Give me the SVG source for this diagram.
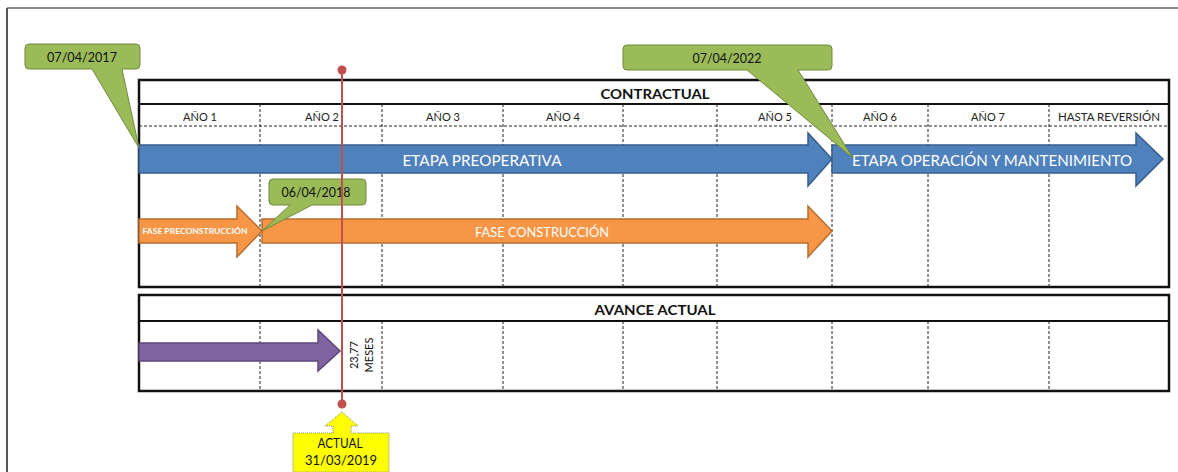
<svg xmlns="http://www.w3.org/2000/svg" width="1178" height="472" viewBox="0 0 1178 472">
<style>
  text { font-family: Lato, "Open Sans", "Liberation Sans", sans-serif; }
  .frame { fill: none; stroke: #111; stroke-width: 2.5; }
  .rowline { stroke: #111; stroke-width: 2; }
  .dash { stroke: #222; stroke-width: 1; stroke-dasharray: 3 2; fill: none; }
  .hdr { font-size: 11px; fill: #222; text-anchor: middle; }
  .title { font-size: 14px; font-weight: bold; fill: #111; text-anchor: middle; }
  .blue { fill: #4F81BD; stroke: #385D8A; stroke-width: 1.5; }
  .orange { fill: #F79646; stroke: #B66D31; stroke-width: 1.5; }
  .purple { fill: #8064A2; stroke: #5C4776; stroke-width: 1.5; }
  .green { fill: #9BBB59; stroke: #71893F; stroke-width: 1; }
  .wlab { fill: #FFFFFF; text-anchor: middle; }
  .date { font-size: 12.5px; fill: #111; text-anchor: middle; }
</style>

<!-- outer frame -->
<g id="outer-frame">
  <line x1="7" y1="8" x2="1178" y2="8" stroke="#666" stroke-width="1.5"/>
  <line x1="7" y1="8" x2="7" y2="472" stroke="#555" stroke-width="2"/>
</g>

<!-- CONTRACTUAL table -->
<g id="contractual-table">
  <rect class="frame" x="139" y="80" width="1030" height="207" fill="#fff"/>
  <line class="rowline" x1="139" y1="104" x2="1169" y2="104"/>
  <line class="dash" x1="139" y1="126" x2="1169" y2="126"/>
  <line class="dash" x1="260" y1="104" x2="260" y2="287"/>
  <line class="dash" x1="382" y1="104" x2="382" y2="287"/>
  <line class="dash" x1="503" y1="104" x2="503" y2="287"/>
  <line class="dash" x1="623" y1="104" x2="623" y2="287"/>
  <line class="dash" x1="717" y1="104" x2="717" y2="287"/>
  <line class="dash" x1="832" y1="104" x2="832" y2="287"/>
  <line class="dash" x1="928" y1="104" x2="928" y2="287"/>
  <line class="dash" x1="1049" y1="104" x2="1049" y2="287"/>
  <text class="title" x="655" y="99" textLength="109" lengthAdjust="spacingAndGlyphs">CONTRACTUAL</text>
  <text class="hdr" x="200" y="121">AÑO 1</text>
  <text class="hdr" x="322" y="121">AÑO 2</text>
  <text class="hdr" x="443" y="121">AÑO 3</text>
  <text class="hdr" x="563" y="121">AÑO 4</text>
  <text class="hdr" x="775" y="121">AÑO 5</text>
  <text class="hdr" x="880" y="121">AÑO 6</text>
  <text class="hdr" x="988" y="121">AÑO 7</text>
  <text class="hdr" x="1109" y="121" textLength="102" lengthAdjust="spacingAndGlyphs">HASTA REVERSIÓN</text>
</g>

<!-- AVANCE ACTUAL table -->
<g id="avance-table">
  <rect class="frame" x="139" y="295" width="1030" height="96" fill="#fff"/>
  <line class="rowline" x1="139" y1="321" x2="1169" y2="321"/>
  <line class="dash" x1="260" y1="321" x2="260" y2="391"/>
  <line class="dash" x1="382" y1="321" x2="382" y2="391"/>
  <line class="dash" x1="503" y1="321" x2="503" y2="391"/>
  <line class="dash" x1="623" y1="321" x2="623" y2="391"/>
  <line class="dash" x1="717" y1="321" x2="717" y2="391"/>
  <line class="dash" x1="832" y1="321" x2="832" y2="391"/>
  <line class="dash" x1="928" y1="321" x2="928" y2="391"/>
  <line class="dash" x1="1049" y1="321" x2="1049" y2="391"/>
  <text class="title" x="655" y="315" textLength="121" lengthAdjust="spacingAndGlyphs">AVANCE ACTUAL</text>
</g>

<!-- arrows -->
<g id="arrow-etapa-preoperativa">
  <path class="blue" d="M139,145 H808 V133 L832,159 L808,186 V173 H139 Z"/>
  <text class="wlab" x="482" y="166" font-size="15" textLength="159" lengthAdjust="spacingAndGlyphs">ETAPA PREOPERATIVA</text>
</g>
<g id="arrow-etapa-operacion">
  <path class="blue" d="M832,145 H1136 V133 L1163,159 L1136,186 V173 H832 Z"/>
  <text class="wlab" x="992" y="166" font-size="15" textLength="280" lengthAdjust="spacingAndGlyphs">ETAPA OPERACIÓN Y MANTENIMIENTO</text>
</g>
<g id="arrow-fase-preconstruccion">
  <path class="orange" d="M139,219 H237 V206 L262,231 L237,257 V243 H139 Z"/>
  <text class="wlab" x="195" y="234" font-size="8" font-weight="bold" textLength="105" lengthAdjust="spacingAndGlyphs">FASE PRECONSTRUCCIÓN</text>
</g>
<g id="arrow-fase-construccion">
  <path class="orange" d="M262,219 H808 V206 L832,231 L808,257 V243 H262 Z"/>
  <text class="wlab" x="542" y="237" font-size="14" textLength="134" lengthAdjust="spacingAndGlyphs">FASE CONSTRUCCIÓN</text>
</g>
<g id="arrow-avance">
  <path class="purple" d="M139,343 H318 V330 L340,351 L318,371 V361 H139 Z"/>
</g>

<!-- callouts -->
<g id="callout-2017">
  <path class="green" d="M29,44 H136 Q140,44 140,48 V65 Q140,69 136,69 H122 L139,148 L92,69 H29 Q25,69 25,65 V48 Q25,44 29,44 Z"/>
  <text class="date" x="82" y="62" textLength="70" lengthAdjust="spacingAndGlyphs">07/04/2017</text>
</g>
<g id="callout-2022">
  <path class="green" d="M627,45 H828 Q832,45 832,49 V66 Q832,70 828,70 H798 L853,158 L747,70 H627 Q623,70 623,66 V49 Q623,45 627,45 Z"/>
  <text class="date" x="727" y="63" textLength="69" lengthAdjust="spacingAndGlyphs">07/04/2022</text>
</g>
<g id="callout-2018">
  <path class="green" d="M273,179 H362 Q366,179 366,183 V201 Q366,205 362,205 H312 L262,231 L290,205 H273 Q269,205 269,201 V183 Q269,179 273,179 Z"/>
  <text class="date" x="316" y="197" textLength="69" lengthAdjust="spacingAndGlyphs">06/04/2018</text>
</g>

<!-- current date marker -->
<g id="marker-actual">
  <line x1="342" y1="70" x2="342" y2="404" stroke="#C0504D" stroke-width="2"/>
  <circle cx="342" cy="70" r="4.5" fill="#C0504D"/>
  <circle cx="342" cy="404" r="4.5" fill="#C0504D"/>
  <path d="M293,433 H333 V426 H325 L342,412 L358,426 H351 V433 H389 V472 H293 Z" fill="#FFFF00" stroke="#888" stroke-width="1" stroke-dasharray="1 1"/>
  <text class="date" x="340" y="448" textLength="45" lengthAdjust="spacingAndGlyphs">ACTUAL</text>
  <text class="date" x="341" y="465" textLength="72" lengthAdjust="spacingAndGlyphs">31/03/2019</text>
</g>

<g id="label-meses">
  <text transform="translate(358,355) rotate(-90)" font-size="11" fill="#111" text-anchor="middle">23,77</text>
  <text transform="translate(373,355) rotate(-90)" font-size="11" fill="#111" text-anchor="middle">MESES</text>
</g>

<g id="connectors"></g>
</svg>
